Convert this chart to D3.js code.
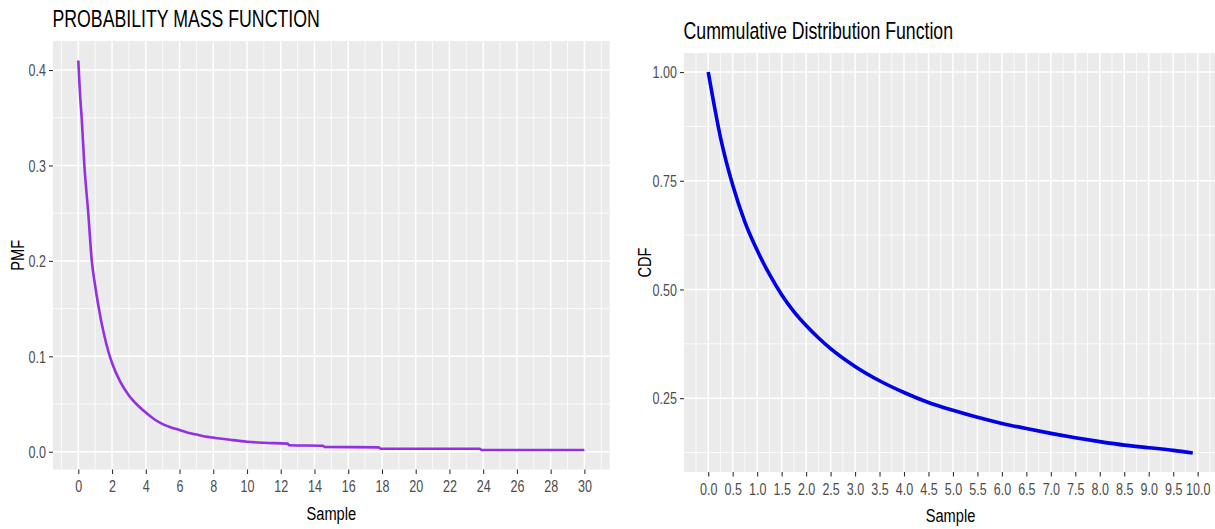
<!DOCTYPE html>
<html>
<head>
<meta charset="utf-8">
<script src="https://cdn.jsdelivr.net/npm/d3@7"></script>
<style>
  html, body { margin: 0; padding: 0; background: #ffffff; }
  svg { display: block; font-family: "Liberation Sans", Arial, sans-serif; }
</style>
</head>
<body>
<svg id="chart" width="1215" height="529"></svg>
<script>
// ---------- DATA ----------
const pmfSample = [0, 0.1, 0.2, 0.36, 0.59, 0.8, 1.0, 1.2, 1.5, 1.8, 2.0, 2.5, 3.0, 3.5, 4.0, 4.5, 5.0, 5.5, 6.0, 6.5, 7.0, 7.5, 8.0, 9.0, 10.0, 11.0, 12.4, 12.5, 14.5, 14.6, 17.8, 17.9, 23.8, 23.9, 30];
const pmfValue  = [0.41, 0.375, 0.35, 0.30, 0.25, 0.20, 0.174, 0.152, 0.125, 0.104, 0.093, 0.073, 0.059, 0.049, 0.041, 0.034, 0.029, 0.0255, 0.0228, 0.020, 0.018, 0.016, 0.0148, 0.0125, 0.0105, 0.0094, 0.0085, 0.0068, 0.0062, 0.0050, 0.0046, 0.0033, 0.0031, 0.0019, 0.0018];

const cdfSample = [0, 0.25, 0.5, 0.75, 1.0, 1.25, 1.5, 1.75, 2.0, 2.25, 2.5, 3.0, 3.5, 4.0, 4.5, 5.0, 5.5, 6.0, 6.5, 7.0, 7.5, 8.0, 8.5, 9.0, 9.5, 9.9];
const cdfValue  = [1.0, 0.85, 0.74, 0.655, 0.59, 0.535, 0.488, 0.449, 0.417, 0.389, 0.364, 0.323, 0.29, 0.263, 0.24, 0.222, 0.206, 0.192, 0.18, 0.169, 0.159, 0.15, 0.142, 0.136, 0.13, 0.124];

const pmfXTicks = [0, 2, 4, 6, 8, 10, 12, 14, 16, 18, 20, 22, 24, 26, 28, 30];
const pmfXMinor = [-1, 1, 3, 5, 7, 9, 11, 13, 15, 17, 19, 21, 23, 25, 27, 29, 31];
const pmfYTicks = [0.0, 0.1, 0.2, 0.3, 0.4];
const pmfYMinor = [0.05, 0.15, 0.25, 0.35];

const cdfXTicks = [0, 0.5, 1, 1.5, 2, 2.5, 3, 3.5, 4, 4.5, 5, 5.5, 6, 6.5, 7, 7.5, 8, 8.5, 9, 9.5, 10];
const cdfXMinor = [-0.25, 0.25, 0.75, 1.25, 1.75, 2.25, 2.75, 3.25, 3.75, 4.25, 4.75, 5.25, 5.75, 6.25, 6.75, 7.25, 7.75, 8.25, 8.75, 9.25, 9.75, 10.25];
const cdfYTicks = [0.25, 0.50, 0.75, 1.00];
const cdfYMinor = [0.125, 0.375, 0.625, 0.875];

const titles = ["PROBABILITY MASS FUNCTION", "Cummulative Distribution Function"];
const xTitle = "Sample";
const yTitles = ["PMF", "CDF"];

// ---------- DRAWING ----------
const svg = d3.select("#chart");
const SQUEEZE = 0.77;       // horizontal compression of all text in the reference
const TICK_SQUEEZE = 0.76;

function expand(ext, m) {
  const r = ext[1] - ext[0];
  return [ext[0] - r * m, ext[1] + r * m];
}

function panel(cfg) {
  const xs = cfg.xs, ys = cfg.ys;
  const pts = xs.map((v, i) => [v, ys[i]]);
  const x = d3.scaleLinear().domain(expand(d3.extent(xs), 0.05)).range(cfg.xRange);
  const y = d3.scaleLinear().domain(expand(d3.extent(ys), 0.05)).range(cfg.yRange);

  const g = svg.append("g");
  const [x0, x1] = cfg.xRange, [y1, y0] = cfg.yRange;

  g.append("rect").attr("x", x0).attr("y", y0)
    .attr("width", x1 - x0).attr("height", y1 - y0).attr("fill", "#EBEBEB");

  g.selectAll(".vminor").data(cfg.xMinor).join("line")
    .attr("x1", d => x(d)).attr("x2", d => x(d)).attr("y1", y0).attr("y2", y1)
    .attr("stroke", "#ffffff").attr("stroke-width", 0.8);
  g.selectAll(".hminor").data(cfg.yMinor).join("line")
    .attr("y1", d => y(d)).attr("y2", d => y(d)).attr("x1", x0).attr("x2", x1)
    .attr("stroke", "#ffffff").attr("stroke-width", 0.8);
  g.selectAll(".vmajor").data(cfg.xTicks).join("line")
    .attr("x1", d => x(d)).attr("x2", d => x(d)).attr("y1", y0).attr("y2", y1)
    .attr("stroke", "#ffffff").attr("stroke-width", 1.5);
  g.selectAll(".hmajor").data(cfg.yTicks).join("line")
    .attr("y1", d => y(d)).attr("y2", d => y(d)).attr("x1", x0).attr("x2", x1)
    .attr("stroke", "#ffffff").attr("stroke-width", 1.5);

  g.append("path").datum(pts)
    .attr("fill", "none").attr("stroke", cfg.color).attr("stroke-width", cfg.lw)
    .attr("stroke-linejoin", "round")
    .attr("d", d3.line().x(d => x(d[0])).y(d => y(d[1])).curve(d3.curveMonotoneX));

  const xa = g.append("g").attr("transform", `translate(0,${y1})`)
    .call(d3.axisBottom(x).tickValues(cfg.xTicks).tickFormat(cfg.xFmt).tickSize(4.5).tickPadding(5));
  const ya = g.append("g").attr("transform", `translate(${x0},0)`)
    .call(d3.axisLeft(y).tickValues(cfg.yTicks).tickFormat(cfg.yFmt).tickSize(4).tickPadding(3));
  [xa, ya].forEach(a => {
    a.select(".domain").remove();
    a.selectAll(".tick line").attr("stroke", "#333333").attr("stroke-width", 1.1);
    a.selectAll(".tick text").attr("fill", "#4D4D4D")
      .style("font-family", '"Liberation Sans", Arial, sans-serif').style("font-size", "16.5px");
  });
  // compress tick labels horizontally around their anchor
  xa.selectAll(".tick text").attr("dy", "0.8em")
    .attr("transform", `scale(${TICK_SQUEEZE},1)`);
  ya.selectAll(".tick text").attr("dy", "0.35em")
    .attr("x", -7 / TICK_SQUEEZE)
    .attr("transform", `scale(${TICK_SQUEEZE},1)`);

  g.append("text")
    .attr("transform", `translate(${x0 - 0.5},${cfg.titleY}) scale(${SQUEEZE},1)`)
    .attr("fill", "#000").style("font-size", "23px").text(cfg.title);

  g.append("text")
    .attr("transform", `translate(${(x0 + x1) / 2},${cfg.xTitleY}) scale(${SQUEEZE},1)`)
    .attr("text-anchor", "middle").attr("fill", "#000").style("font-size", "19px").text(xTitle);

  g.append("text")
    .attr("transform", `translate(${cfg.yTitleX},${(y0 + y1) / 2}) rotate(-90) scale(${SQUEEZE},1)`)
    .attr("text-anchor", "middle").attr("fill", "#000").style("font-size", "19px").text(cfg.yTitle);
}

panel({
  xs: pmfSample, ys: pmfValue,
  xRange: [53, 609.7], yRange: [469.5, 41],
  xTicks: pmfXTicks, xMinor: pmfXMinor, yTicks: pmfYTicks, yMinor: pmfYMinor,
  xFmt: d3.format("d"), yFmt: d3.format(".1f"),
  color: "#9230E2", lw: 2.6,
  title: titles[0], titleY: 26.5,
  xTitleY: 520, yTitle: yTitles[0], yTitleX: 24
});

panel({
  xs: cdfSample, ys: cdfValue,
  xRange: [684, 1217], yRange: [472, 53],
  xTicks: cdfXTicks, xMinor: cdfXMinor, yTicks: cdfYTicks, yMinor: cdfYMinor,
  xFmt: d3.format(".1f"), yFmt: d3.format(".2f"),
  color: "#0000E6", lw: 3.6,
  title: titles[1], titleY: 38.5,
  xTitleY: 522, yTitle: yTitles[1], yTitleX: 651
});
</script>
</body>
</html>
